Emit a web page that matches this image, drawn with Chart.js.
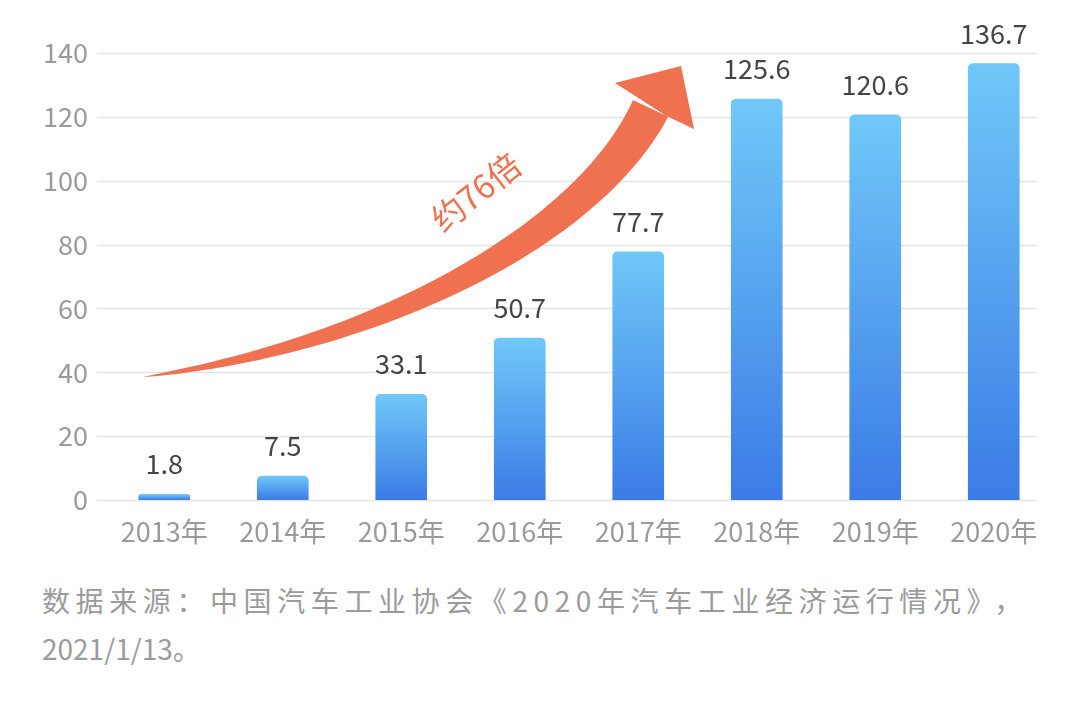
<!DOCTYPE html>
<html>
<head>
<meta charset="utf-8">
<script src="https://cdn.jsdelivr.net/npm/chart.js@4.4.1/dist/chart.umd.min.js"></script>
<style>
    html, body { margin: 0; padding: 0; background: #ffffff; }
    body { width: 1080px; height: 702px; position: relative; overflow: hidden; }
    #wrap { position: absolute; left: 0; top: 0; width: 1080px; height: 560px; }
    #note {
        position: absolute; left: 42px; top: 576px; width: 1030px;
        font-family: "Noto Sans CJK SC", "Noto Sans", sans-serif;
        font-size: 28px; line-height: 48px; color: #9b9b9b;
    }
    #note .l1 { letter-spacing: 5.6px; white-space: nowrap; }
    #note .comma { margin-left: 8px; }
</style>
</head>
<body>
<div id="wrap"><canvas id="bar-chart" width="1080" height="560"></canvas></div>
<div id="note">
    <div class="l1">数据来源：中国汽车工业协会《2020年汽车工业经济运行情况》<span class="comma">，</span></div>
    <div>2021/1/13。</div>
</div>

<script>
// 데이터
const years = ['2013年', '2014年', '2015年', '2016年', '2017年', '2018年', '2019年', '2020年'];
const salesValues = [1.8, 7.5, 33.1, 50.7, 77.7, 125.6, 120.6, 136.7];
const yTicks = [0, 20, 40, 60, 80, 100, 120, 140];

const FONT = '"Noto Sans CJK SC", "Noto Sans", sans-serif';

// 막대마다 위(밝은 하늘색) -> 아래(파란색) 그라데이션
function barGradient(context) {
    const chart = context.chart;
    const y = chart.scales.y;
    if (!chart.chartArea || !y || context.dataIndex === undefined) return '#4f9ff0';
    const top = y.getPixelForValue(salesValues[context.dataIndex]);
    const bottom = y.getPixelForValue(0);
    if (!isFinite(top) || !isFinite(bottom)) return '#4f9ff0';
    const g = chart.ctx.createLinearGradient(0, top, 0, bottom);
    g.addColorStop(0, '#70c8f8');
    g.addColorStop(1, '#3b7be6');
    return g;
}

// 가로 눈금선 (왼쪽은 조금 더 나오고 오른쪽은 조금 짧게)
const gridLines = {
    id: 'gridLines',
    beforeDatasetsDraw(chart) {
        const { ctx, chartArea, scales } = chart;
        ctx.save();
        ctx.strokeStyle = '#e4e4e4';
        ctx.lineWidth = 1.5;
        yTicks.forEach(v => {
            const py = Math.round(scales.y.getPixelForValue(v)) + 0.5;
            ctx.beginPath();
            ctx.moveTo(chartArea.left - 8, py);
            ctx.lineTo(chartArea.right - 16, py);
            ctx.stroke();
        });
        ctx.restore();
    }
};

// 막대 위 값 표시
const valueLabels = {
    id: 'valueLabels',
    afterDatasetsDraw(chart) {
        const { ctx } = chart;
        const meta = chart.getDatasetMeta(0);
        ctx.save();
        ctx.font = '27px ' + FONT;
        ctx.fillStyle = '#444444';
        ctx.textAlign = 'center';
        ctx.textBaseline = 'alphabetic';
        meta.data.forEach((bar, i) => {
            ctx.fillText(String(salesValues[i]), bar.x, bar.y - 20);
        });
        ctx.restore();
    }
};

// 주황색 곡선 화살표 + "约76倍"
const growthArrow = {
    id: 'growthArrow',
    afterDraw(chart) {
        const { ctx } = chart;
        const P0 = [143, 377], P1 = [380, 345], P2 = [589, 234], P3 = [650.5, 108.5];
        const pt = t => {
            const a = (1 - t) ** 3, b = 3 * (1 - t) ** 2 * t, c = 3 * (1 - t) * t * t, d = t ** 3;
            return [a * P0[0] + b * P1[0] + c * P2[0] + d * P3[0], a * P0[1] + b * P1[1] + c * P2[1] + d * P3[1]];
        };
        const tan = t => {
            const a = 3 * (1 - t) ** 2, b = 6 * (1 - t) * t, c = 3 * t * t;
            return [a * (P1[0] - P0[0]) + b * (P2[0] - P1[0]) + c * (P3[0] - P2[0]),
                    a * (P1[1] - P0[1]) + b * (P2[1] - P1[1]) + c * (P3[1] - P2[1])];
        };
        const upper = [], lower = [];
        const N = 60;
        for (let i = 0; i <= N; i++) {
            const t = i / N;
            const p = pt(t);
            const d = tan(t);
            const len = Math.hypot(d[0], d[1]);
            const nx = d[1] / len, ny = -d[0] / len;
            const h = 19.5 * Math.pow(t, 0.75);
            upper.push([p[0] - nx * h, p[1] - ny * h]);
            lower.push([p[0] + nx * h, p[1] + ny * h]);
        }
        ctx.save();
        ctx.fillStyle = '#ef7150';
        ctx.beginPath();
        ctx.moveTo(upper[0][0], upper[0][1]);
        upper.forEach(p => ctx.lineTo(p[0], p[1]));
        ctx.lineTo(615, 83);
        ctx.lineTo(681, 66);
        ctx.lineTo(694, 129);
        ctx.lineTo(lower[N][0], lower[N][1]);
        for (let i = N; i >= 0; i--) ctx.lineTo(lower[i][0], lower[i][1]);
        ctx.closePath();
        ctx.fill();

        ctx.translate(476, 192);
        ctx.rotate(-38 * Math.PI / 180);
        ctx.font = '33px ' + FONT;
        ctx.fillStyle = '#ef7150';
        ctx.textAlign = 'center';
        ctx.textBaseline = 'middle';
        ctx.fillText('约76倍', 0, 0);
        ctx.restore();
    }
};

document.addEventListener('DOMContentLoaded', function() {
    const ctx = document.getElementById('bar-chart').getContext('2d');
    new Chart(ctx, {
        type: 'bar',
        data: {
            labels: years,
            datasets: [{
                data: salesValues,
                backgroundColor: barGradient,
                barThickness: 51,
                borderRadius: 5,
                borderSkipped: 'start'
            }]
        },
        options: {
            responsive: false,
            animation: false,
            layout: { padding: { top: 53, right: 27, left: 0, bottom: 0 } },
            plugins: {
                legend: { display: false },
                tooltip: { enabled: false }
            },
            scales: {
                x: {
                    grid: { display: false },
                    border: { display: false },
                    ticks: { color: '#9a9a9a', font: { family: FONT, size: 27 }, padding: 8 },
                    afterFit(scale) { scale.height = 60; }
                },
                y: {
                    min: 0,
                    max: 140,
                    grid: { display: false },
                    border: { display: false },
                    ticks: {
                        stepSize: 20,
                        color: '#9a9a9a',
                        font: { family: FONT, size: 27 },
                        padding: 9
                    },
                    afterFit(scale) { scale.width = 105; }
                }
            }
        },
        plugins: [gridLines, valueLabels, growthArrow]
    });
});
</script>
</body>
</html>
